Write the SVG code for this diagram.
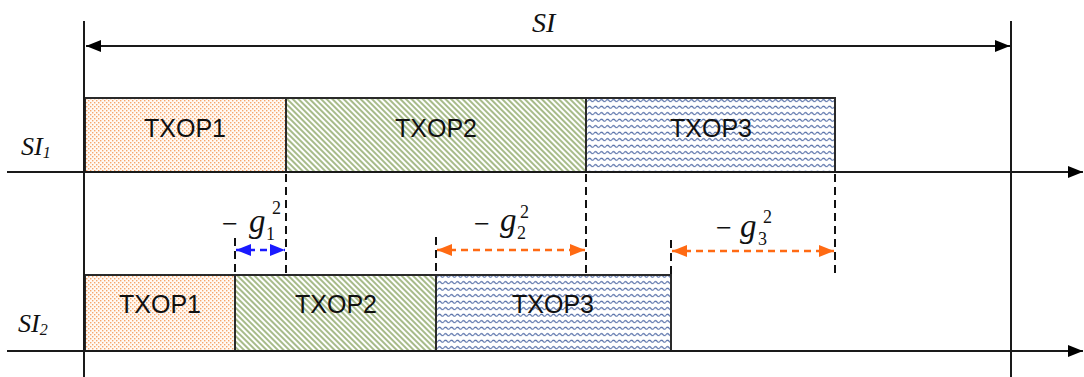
<svg xmlns="http://www.w3.org/2000/svg" width="1084" height="377" viewBox="0 0 1084 377">
<style>
.box{stroke:#2a2a2a;stroke-width:2}
.ax{stroke:#1a1a1a;stroke-width:2;fill:none}
.dash{stroke:#111;stroke-width:2;stroke-dasharray:8,5;fill:none}
.oarr{stroke:#ff6a13;stroke-width:2.5;stroke-dasharray:7,5;fill:none}
.barr{stroke:#1a1aff;stroke-width:2.5;stroke-dasharray:7,5;fill:none}
.tx{font-family:"Liberation Sans",Arial,sans-serif;font-size:25px;fill:#111;text-anchor:middle}
.m{font-family:"Liberation Serif","Times New Roman",serif;fill:#111}
.it{font-style:italic}
</style>
<defs>
<pattern id="dots" width="4" height="4" patternUnits="userSpaceOnUse">
<rect width="4" height="4" fill="#fffaf5"/>
<rect x="0" y="0" width="1.4" height="1.4" fill="#f6a66c"/>
<rect x="2" y="2" width="1.4" height="1.4" fill="#f6a66c"/>
</pattern>
<pattern id="hatch" width="4" height="4" patternUnits="userSpaceOnUse" patternTransform="rotate(-45)">
<rect width="4" height="4" fill="#ffffff"/>
<line x1="1" y1="0" x2="1" y2="4" stroke="#8aa463" stroke-width="1.5"/>
</pattern>
<pattern id="wave" width="6" height="6.5" patternUnits="userSpaceOnUse">
<rect width="6" height="6.5" fill="#ffffff"/>
<path d="M0 3.2 Q1.5 1.2 3 3.2 T6 3.2" stroke="#3f5c9c" stroke-width="1" fill="none"/>
</pattern>
<marker id="ak" viewBox="0 0 15 12" refX="15" refY="6" markerWidth="15" markerHeight="12" markerUnits="userSpaceOnUse" orient="auto-start-reverse">
<path d="M0 0 L15 6 L0 12 Z" fill="#000"/>
</marker>
<marker id="ao" viewBox="0 0 15 12" refX="15" refY="6" markerWidth="15" markerHeight="12" markerUnits="userSpaceOnUse" orient="auto-start-reverse">
<path d="M0 0 L15 6 L0 12 Z" fill="#ff6a13"/>
</marker>
<marker id="ab" viewBox="0 0 15 12" refX="15" refY="6" markerWidth="15" markerHeight="12" markerUnits="userSpaceOnUse" orient="auto-start-reverse">
<path d="M0 0 L15 6 L0 12 Z" fill="#1a1aff"/>
</marker>
</defs>

<g id="si1-txop1"><rect class="box" x="85" y="98" width="201" height="74" fill="url(#dots)"/><text class="tx" x="185" y="137">TXOP1</text></g>
<g id="si1-txop2"><rect class="box" x="286" y="98" width="300" height="74" fill="url(#hatch)"/><text class="tx" x="436" y="137">TXOP2</text></g>
<g id="si1-txop3"><rect class="box" x="586" y="98" width="249" height="74" fill="url(#wave)"/><text class="tx" x="711" y="137">TXOP3</text></g>

<g id="si2-txop1"><rect class="box" x="85" y="275" width="150" height="76" fill="url(#dots)"/><text class="tx" x="160" y="313">TXOP1</text></g>
<g id="si2-txop2"><rect class="box" x="235" y="275" width="201" height="76" fill="url(#hatch)"/><text class="tx" x="336" y="313">TXOP2</text></g>
<g id="si2-txop3"><rect class="box" x="436" y="275" width="235" height="76" fill="url(#wave)"/><text class="tx" x="553" y="313">TXOP3</text></g>

<g id="connectors">
<line class="ax" x1="84" y1="21" x2="84" y2="377"/>
<line class="ax" x1="1011" y1="21" x2="1011" y2="377"/>
<line class="ax" x1="86" y1="46" x2="1010" y2="46" marker-start="url(#ak)" marker-end="url(#ak)"/>
<line class="ax" x1="7" y1="172" x2="1083" y2="172" marker-end="url(#ak)"/>
<line class="ax" x1="7" y1="351" x2="1083" y2="351" marker-end="url(#ak)"/>
<line class="dash" x1="286" y1="174" x2="286" y2="275"/>
<line class="dash" x1="586" y1="174" x2="586" y2="275"/>
<line class="dash" x1="835" y1="174" x2="835" y2="277"/>
<line class="dash" x1="235" y1="238" x2="235" y2="275"/>
<line class="dash" x1="436" y1="237" x2="436" y2="275"/>
<line class="dash" x1="671" y1="240" x2="671" y2="275"/>
<line class="barr" x1="236" y1="250" x2="285" y2="250" marker-start="url(#ab)" marker-end="url(#ab)"/>
<line class="oarr" x1="437" y1="250" x2="585" y2="250" marker-start="url(#ao)" marker-end="url(#ao)"/>
<line class="oarr" x1="672" y1="251" x2="834" y2="251" marker-start="url(#ao)" marker-end="url(#ao)"/>
</g>

<g id="labels">
<text class="m it" x="532" y="32" font-size="28">SI</text>
<text class="m it" x="21" y="155" font-size="26">SI<tspan font-size="16" dy="3">1</tspan></text>
<text class="m it" x="18" y="332" font-size="26">SI<tspan font-size="16" dy="3">2</tspan></text>

<text class="m" x="222" y="233" font-size="28">−</text>
<text class="m it" x="249" y="232" font-size="33">g</text>
<text class="m" x="266" y="240" font-size="18">1</text>
<text class="m" x="272" y="214" font-size="18">2</text>

<text class="m" x="474" y="233" font-size="28">−</text>
<text class="m it" x="500" y="231" font-size="33">g</text>
<text class="m" x="517" y="239" font-size="18">2</text>
<text class="m" x="520" y="218" font-size="18">2</text>

<text class="m" x="716" y="237" font-size="28">−</text>
<text class="m it" x="740" y="237" font-size="33">g</text>
<text class="m" x="758" y="245" font-size="18">3</text>
<text class="m" x="763" y="223" font-size="18">2</text>
</g>
</svg>
